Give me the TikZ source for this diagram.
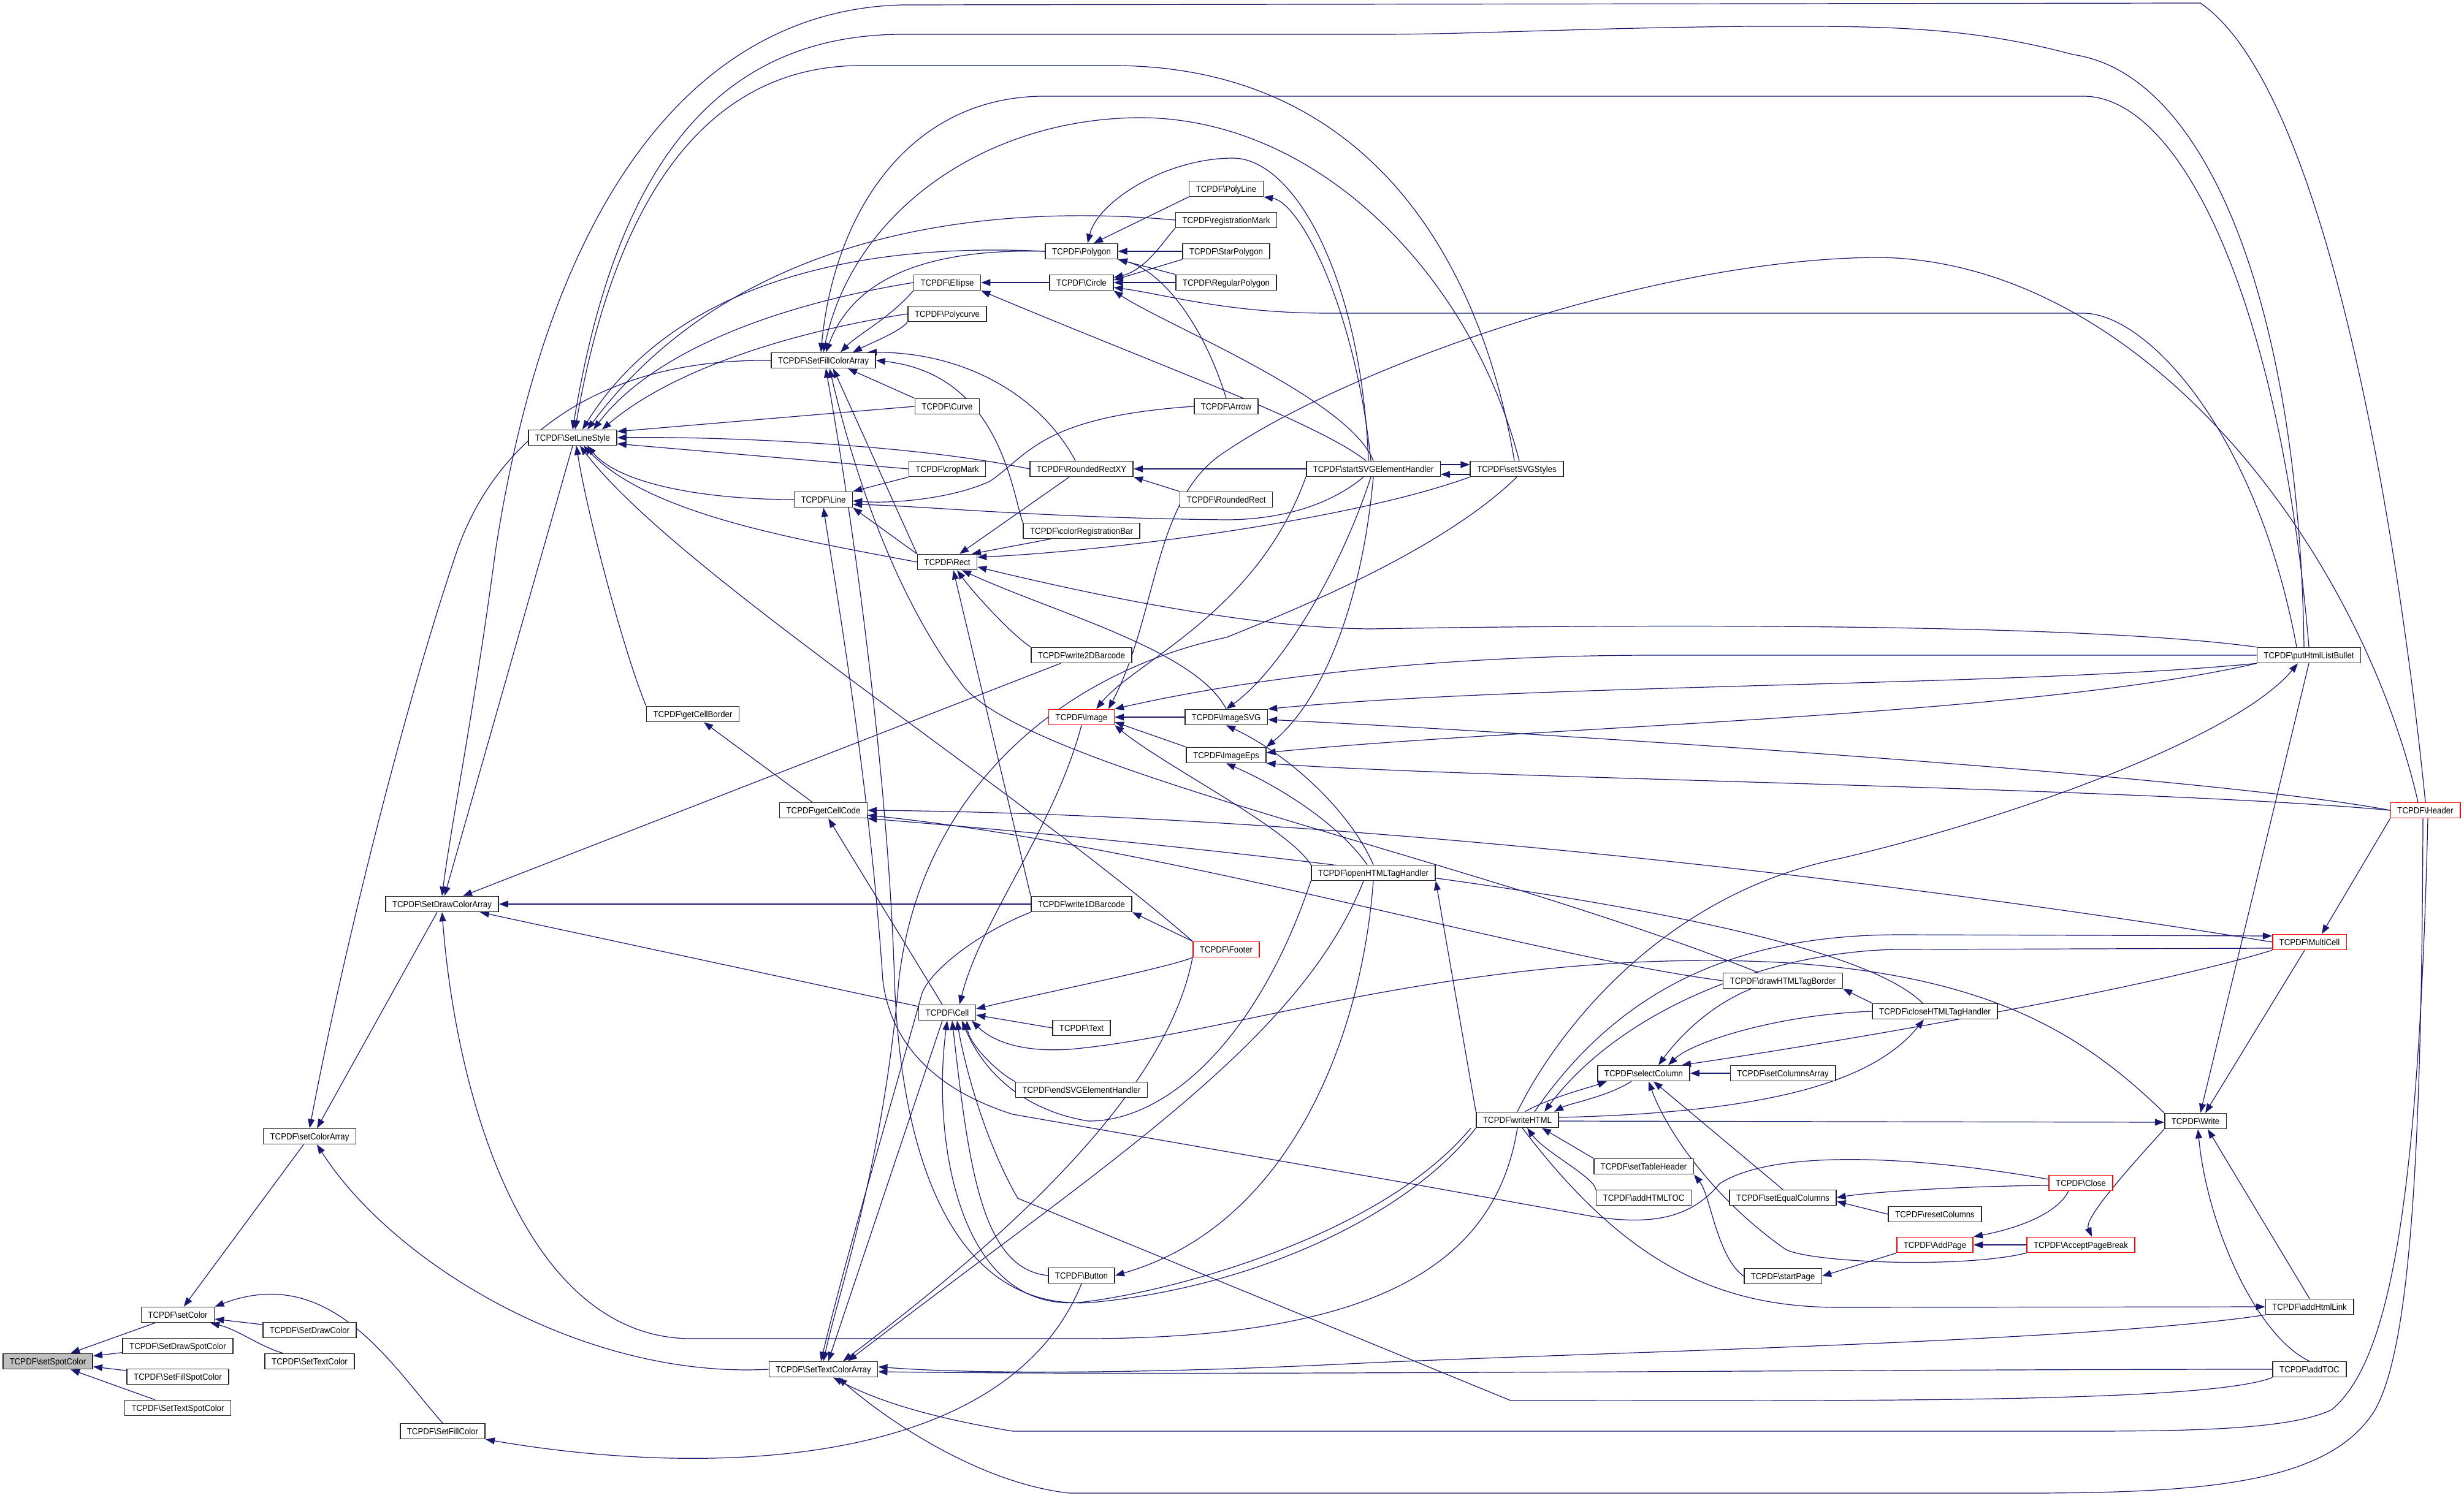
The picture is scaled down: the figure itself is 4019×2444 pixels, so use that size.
\documentclass[tikz,border=0pt]{standalone}
\usepackage{fontspec}
\setmainfont{Liberation Sans}[FakeStretch=0.92]
\usetikzlibrary{arrows.meta}
\newcommand{\bsl}{\textbackslash}
\definecolor{edgec}{HTML}{191970}
\pgfdeclarelayer{paper}
\pgfdeclarelayer{bg}
\pgfsetlayers{paper,bg,main}
\begin{document}
\begin{tikzpicture}[x=0.5pt,y=-0.5pt,
  fn/.style={draw=black!85,line width=0.8pt,fill=white,inner xsep=5.5pt,inner ysep=0pt,
     minimum height=12.5pt,text height=5.3pt,text depth=0.2pt,
     font=\fontsize{7.2pt}{8pt}\selectfont},
  hot/.style={fn,draw=red},
  e/.style={draw=edgec,line width=0.6pt,-{Triangle[length=7.5pt,width=5.5pt]}}]
\useasboundingbox (0,0) rectangle (4019,2444);
\begin{pgfonlayer}{paper}
\fill[white] (0,0) rectangle (4019,2444);
\end{pgfonlayer}
% ---------------- nodes
\node[fn,fill=gray!50] (n00) at (78,2221) {TCPDF\bsl setSpotColor};
\node[fn] (n01) at (290,2145) {TCPDF\bsl setColor};
\node[fn] (n02) at (290,2196) {TCPDF\bsl SetDrawSpotColor};
\node[fn] (n03) at (290,2246) {TCPDF\bsl SetFillSpotColor};
\node[fn] (n04) at (290,2297) {TCPDF\bsl SetTextSpotColor};
\node[fn] (n05) at (505,1854) {TCPDF\bsl setColorArray};
\node[fn] (n06) at (505,2170) {TCPDF\bsl SetDrawColor};
\node[fn] (n07) at (505,2221) {TCPDF\bsl SetTextColor};
\node[fn] (n08) at (721,1475) {TCPDF\bsl SetDrawColorArray};
\node[fn] (n09) at (722,2335) {TCPDF\bsl SetFillColor};
\node[fn] (n10) at (934,714) {TCPDF\bsl SetLineStyle};
\node[fn] (n11) at (1130,1165) {TCPDF\bsl getCellBorder};
\node[fn] (n12) at (1343,588) {TCPDF\bsl SetFillColorArray};
\node[fn] (n13) at (1343,1322) {TCPDF\bsl getCellCode};
\node[fn] (n14) at (1343,815) {TCPDF\bsl Line};
\node[fn] (n15) at (1343,2234) {TCPDF\bsl SetTextColorArray};
\node[fn] (n16) at (1545,461) {TCPDF\bsl Ellipse};
\node[fn] (n17) at (1545,512) {TCPDF\bsl Polycurve};
\node[fn] (n18) at (1545,663) {TCPDF\bsl Curve};
\node[fn] (n19) at (1545,765) {TCPDF\bsl cropMark};
\node[fn] (n20) at (1545,917) {TCPDF\bsl Rect};
\node[fn] (n21) at (1545,1652) {TCPDF\bsl Cell};
\node[fn] (n22) at (1764,410) {TCPDF\bsl Polygon};
\node[fn] (n23) at (1764,461) {TCPDF\bsl Circle};
\node[fn] (n24) at (1764,765) {TCPDF\bsl RoundedRectXY};
\node[fn] (n25) at (1764,866) {TCPDF\bsl colorRegistrationBar};
\node[fn] (n26) at (1764,1069) {TCPDF\bsl write2DBarcode};
\node[hot] (n27) at (1764,1170) {TCPDF\bsl Image};
\node[fn] (n28) at (1764,1475) {TCPDF\bsl write1DBarcode};
\node[fn] (n29) at (1764,1677) {TCPDF\bsl Text};
\node[fn] (n30) at (1764,1778) {TCPDF\bsl endSVGElementHandler};
\node[fn] (n31) at (1764,2081) {TCPDF\bsl Button};
\node[fn] (n32) at (2000,308) {TCPDF\bsl PolyLine};
\node[fn] (n33) at (2000,359) {TCPDF\bsl registrationMark};
\node[fn] (n34) at (2000,410) {TCPDF\bsl StarPolygon};
\node[fn] (n35) at (2000,461) {TCPDF\bsl RegularPolygon};
\node[fn] (n36) at (2000,663) {TCPDF\bsl Arrow};
\node[fn] (n37) at (2000,815) {TCPDF\bsl RoundedRect};
\node[fn] (n38) at (2000,1170) {TCPDF\bsl ImageSVG};
\node[fn] (n39) at (2000,1232) {TCPDF\bsl ImageEps};
\node[hot] (n40) at (2000,1549) {TCPDF\bsl Footer};
\node[fn] (n41) at (2240,765) {TCPDF\bsl startSVGElementHandler};
\node[fn] (n42) at (2240,1424) {TCPDF\bsl openHTMLTagHandler};
\node[fn] (n43) at (2474,765) {TCPDF\bsl setSVGStyles};
\node[fn] (n44) at (2475,1827) {TCPDF\bsl writeHTML};
\node[fn] (n45) at (2681,1751) {TCPDF\bsl selectColumn};
\node[fn] (n46) at (2681,1903) {TCPDF\bsl setTableHeader};
\node[fn] (n47) at (2681,1954) {TCPDF\bsl addHTMLTOC};
\node[fn] (n48) at (2908,1600) {TCPDF\bsl drawHTMLTagBorder};
\node[fn] (n49) at (2908,1751) {TCPDF\bsl setColumnsArray};
\node[fn] (n50) at (2908,1954) {TCPDF\bsl setEqualColumns};
\node[fn] (n51) at (2908,2082) {TCPDF\bsl startPage};
\node[fn] (n52) at (3156,1650) {TCPDF\bsl closeHTMLTagHandler};
\node[fn] (n53) at (3156,1981) {TCPDF\bsl resetColumns};
\node[hot] (n54) at (3156,2031) {TCPDF\bsl AddPage};
\node[hot] (n55) at (3394,1930) {TCPDF\bsl Close};
\node[hot] (n56) at (3394,2031) {TCPDF\bsl AcceptPageBreak};
\node[fn] (n57) at (3581,1829) {TCPDF\bsl Write};
\node[fn] (n58) at (3766,1069) {TCPDF\bsl putHtmlListBullet};
\node[hot] (n59) at (3956,1322) {TCPDF\bsl Header};
\node[hot] (n60) at (3767,1537) {TCPDF\bsl MultiCell};
\node[fn] (n61) at (3767,2132) {TCPDF\bsl addHtmlLink};
\node[fn] (n62) at (3767,2234) {TCPDF\bsl addTOC};
% ---------------- edges
\begin{pgfonlayer}{bg}
% left cluster
\draw[e] (n01) -- (n00);
\draw[e] (n02) -- (n00);
\draw[e] (n03) -- (n00);
\draw[e] (n04) -- (n00);
\draw[e] (n05) -- (n01);
\draw[e] (n06) -- (n01);
\draw[e] (n07) .. controls (420,2195) and (390,2170) .. (n01);
\draw[e] (n09.north) .. controls (640,2230) and (540,2060) .. (n01.north east);
\draw[e] ([xshift=-4pt]n08.south) -- ([xshift=6pt]n05.north);
\draw[e] (n12.west) .. controls (950,585) and (800,740) .. (745,900) .. controls (660,1150) and (560,1550) .. (n05.north);
\draw[e] (n15.west) .. controls (950,2250) and (640,2060) .. ([xshift=6pt]n05.south);
\draw[e] (n31.south) .. controls (1640,2400) and (1150,2410) .. (n09.south east);
% SetDrawColorArray
\draw[e] (n10.south) -- ([xshift=2pt]n08.north);
\draw[e] (n26) -- (n08);
\draw[e] (n28) -- (n08);
\draw[e] (n21) -- (n08);
\draw[e] (n44.south) .. controls (2440,2060) and (2250,2184) .. (1766,2184) -- (1128,2184) .. controls (860,2184) and (745,1800) .. (n08.south);
\draw[e] (n59.north) .. controls (3915,900) and (3800,150) .. (3589,5) -- (1473,8) .. controls (1150,15) and (900,300) .. (808,900) .. controls (775,1150) and (735,1350) .. (n08.north);
% SetLineStyle
\draw[e] (n22.west) .. controls (1400,395) and (1100,460) .. ([xshift=8pt]n10.north);
\draw[e] (n33.west) .. controls (1600,330) and (1200,380) .. ([xshift=12pt]n10.north);
\draw[e] (n16.west) .. controls (1250,500) and (1060,580) .. ([xshift=17pt]n10.north);
\draw[e] (n17.west) .. controls (1300,540) and (1100,600) .. ([xshift=24pt]n10.north);
\draw[e] (n18.west) -- ([yshift=5pt]n10.east);
\draw[e] (n24.west) .. controls (1500,727) and (1200,712) .. (n10.east);
\draw[e] (n19.west) -- ([yshift=-5pt]n10.east);
\draw[e] (n14.west) .. controls (1150,815) and (1010,790) .. ([xshift=12pt]n10.south);
\draw[e] (n20.west) .. controls (1300,880) and (1060,840) .. ([xshift=9pt]n10.south);
\draw[e] (n11.north west) .. controls (1020,1070) and (960,850) .. ([xshift=3pt]n10.south);
\draw[e] (n40.north west) .. controls (1650,1280) and (1100,930) .. ([xshift=6pt]n10.south);
\draw[e] ([xshift=-2pt]n43.north) .. controls (2420,450) and (2250,110) .. (1820,107) -- (1400,107) .. controls (1110,110) and (990,400) .. ([xshift=2pt]n10.north);
\draw[e] ([xshift=-4pt]n58.north) .. controls (3750,500) and (3600,120) .. (3381,89) .. controls (3200,40) and (3050,43) .. (2861,43) .. controls (2600,45) and (2400,56) .. (2254,56) -- (1473,56) .. controls (1150,56) and (1000,300) .. (n10.north);
% SetFillColorArray
\draw[e] (n22.west) .. controls (1500,405) and (1390,460) .. ([xshift=2pt]n12.north);
\draw[e] (n16.south west) .. controls (1450,520) and (1400,545) .. ([xshift=14pt]n12.north);
\draw[e] (n17.south west) .. controls (1470,540) and (1420,560) .. ([xshift=24pt]n12.north);
\draw[e] (n18.north west) -- ([xshift=20pt]n12.south);
\draw[e] ([xshift=-5pt]n24.north) .. controls (1700,650) and (1580,575) .. ([xshift=36pt]n12.north);
\draw[e] (n25.north west) .. controls (1650,800) and (1630,610) .. (n12.east);
\draw[e] (n20.north west) -- ([xshift=8pt]n12.south);
\draw[e] ([xshift=-20pt]n48.north) .. controls (2400,1400) and (1700,1260) .. (1574,1123) .. controls (1470,990) and (1400,800) .. ([xshift=5pt]n12.south);
\draw[e] (n44.south west) .. controls (2300,1980) and (2050,2100) .. (1780,2125) .. controls (1560,2140) and (1470,1900) .. (1459,1600) .. controls (1450,1300) and (1400,900) .. ([xshift=2pt]n12.south);
\draw[e] (n58.north) .. controls (3720,500) and (3560,157) .. (3398,157) -- (1699,157) .. controls (1480,160) and (1360,350) .. ([xshift=-2pt]n12.north);
\draw[e] ([xshift=2pt]n43.north) .. controls (2400,450) and (2150,190) .. (1855,192) .. controls (1600,195) and (1390,350) .. (n12.north);
% getCellCode / getCellBorder
\draw[e] (n13) -- (n11);
\draw[e] (n21) -- (n13);
\draw[e] (n60.west) .. controls (3300,1470) and (2300,1330) .. (n13.east);
\draw[e] (n48.west) .. controls (2500,1560) and (1900,1380) .. ([yshift=-4pt]n13.east);
\draw[e] ([xshift=-10pt]n52.north) .. controls (3000,1500) and (2200,1400) .. (n13.south east);
% Rect
\draw[e] (n28.north west) -- ([xshift=5pt]n20.south);
\draw[e] (n26.north west) .. controls (1650,1035) and (1590,970) .. ([xshift=8pt]n20.south);
\draw[e] (n38.north) .. controls (1950,1060) and (1720,1000) .. ([xshift=12pt]n20.south);
\draw[e] (n58.north west) .. controls (3400,1017) and (2700,1018) .. (2236,1026) .. controls (2050,1025) and (1800,975) .. ([yshift=-4pt]n20.east);
\draw[e] (n43.south west) .. controls (2200,850) and (1800,900) .. ([yshift=4pt]n20.east);
\draw[e] ([xshift=-10pt]n24.south) -- ([xshift=10pt]n20.north);
\draw[e] ([xshift=-25pt]n25.south) -- ([xshift=20pt]n20.north);
\draw[e] (n20.north west) -- (n14.south east);
% Line
\draw[e] (n19.south west) -- (n14.north east);
\draw[e] (n36.west) .. controls (1700,680) and (1680,740) .. (1615,785) .. controls (1550,815) and (1450,822) .. ([yshift=-1pt]n14.east);
\draw[e] ([xshift=-8pt]n41.south) .. controls (2150,840) and (2050,848) .. (2000,848) .. controls (1700,845) and (1500,825) .. ([yshift=-4pt]n14.east);
\draw[e] ([yshift=3pt]n55.west) .. controls (3150,1890) and (2900,1870) .. (2805,1931) .. controls (2760,1985) and (2700,2000) .. (2600,1985) -- (2300,1931) -- (1652,1818) .. controls (1500,1770) and (1450,1680) .. (1440,1600) .. controls (1420,1300) and (1370,1000) .. (n14.south);
% Polygon / Circle / Ellipse
\draw[e] (n32.south west) -- ([xshift=10pt]n22.north);
\draw[e] ([xshift=-2pt]n41.north) .. controls (2210,500) and (2120,330) .. (n32.south east);
\draw[e] ([xshift=-4pt]n41.north) .. controls (2220,450) and (2110,258) .. (2011,258) .. controls (1900,258) and (1790,330) .. ([xshift=5pt]n22.north);
\draw[e] (n34.west) -- (n22.east);
\draw[e] (n35.north west) -- (n22.south east);
\draw[e] (n36.north) .. controls (1960,520) and (1890,440) .. (n22.south east);
\draw[e] (n33.south west) .. controls (1900,390) and (1870,440) .. ([yshift=4pt]n23.east);
\draw[e] (n34.south west) -- ([yshift=2pt]n23.east);
\draw[e] (n35.west) -- (n23.east);
\draw[e] (n23.west) -- (n16.east);
\draw[e] (n41.north) .. controls (2200,650) and (1900,530) .. (n23.south east);
\draw[e] ([xshift=-6pt]n41.north) .. controls (2150,690) and (1900,600) .. (n16.south east);
\draw[e] ([xshift=-10pt]n58.north) .. controls (3680,700) and (3500,511) .. (3398,511) -- (2167,511) .. controls (2000,511) and (1900,480) .. ([yshift=-4pt]n23.east);
\draw[e] (n41.west) -- (n24.east);
\draw[e] (n37.north west) -- (n24.south east);
\draw[e] ([yshift=3.5pt]n41.east) -- ([yshift=3.5pt]n43.west);
\draw[e] ([yshift=-4.5pt]n43.west) -- ([yshift=-4.5pt]n41.east);
% Images
\draw[e] ([xshift=-2pt]n41.south) .. controls (2180,950) and (2080,1100) .. (n38.north);
\draw[e] (n41.south) .. controls (2220,1000) and (2150,1150) .. (n39.north east);
\draw[e] (n41.south west) .. controls (2050,1000) and (1850,1080) .. ([xshift=12pt]n27.north);
\draw[e] (n38.west) -- (n27.east);
\draw[e] (n39.north west) -- ([yshift=-4pt]n27.east);
\draw[e] (n42.north west) .. controls (2100,1350) and (1900,1250) .. (n27.south east);
\draw[e] (n42.north) .. controls (2200,1320) and (2100,1230) .. (n38.south);
\draw[e] ([xshift=-5pt]n42.north) .. controls (2180,1340) and (2080,1280) .. (n39.south);
\draw[e] (n58.west) -- (2700,1069) .. controls (2300,1069) and (2000,1115) .. (n27.north east);
\draw[e] (n58.south west) .. controls (3300,1120) and (2500,1115) .. (n38.north east);
\draw[e] (n58.south west) .. controls (3300,1170) and (2500,1185) .. ([yshift=2pt]n39.east);
\draw[e] (n59.west) .. controls (3600,1265) and (2500,1195) .. ([yshift=-2pt]n38.east);
\draw[e] (n59.west) .. controls (3500,1285) and (2400,1270) .. (n39.south east);
\draw[e] ([xshift=-6pt]n59.north) .. controls (3850,900) and (3500,430) .. (3069,420) .. controls (2700,420) and (2200,600) .. (2000,736) .. controls (1880,810) and (1890,1000) .. ([xshift=22pt]n27.north);
\draw[e] (n44.north) .. controls (2530,1700) and (2700,1460) .. (3004,1400) .. controls (3300,1330) and (3650,1200) .. ([xshift=-9pt]n58.south);
% Cell
\draw[e] (n29.west) -- ([yshift=-2pt]n21.east);
\draw[e] (n30.north west) .. controls (1620,1745) and (1580,1700) .. ([xshift=16pt]n21.south);
\draw[e] (n27.south) .. controls (1720,1350) and (1600,1500) .. ([xshift=10pt]n21.north);
\draw[e] (n42.south west) .. controls (2050,1700) and (1900,1830) .. (1775,1829) .. controls (1660,1810) and (1600,1740) .. ([xshift=12pt]n21.south);
\draw[e] (n31.west) .. controls (1600,2070) and (1580,1900) .. ([xshift=4pt]n21.south);
\draw[e] (n40.south west) .. controls (1900,1580) and (1700,1620) .. ([yshift=3pt]n21.east);
\draw[e] (n57.north west) .. controls (3400,1690) and (3250,1590) .. (2900,1570) .. controls (2400,1545) and (2000,1690) .. (1744,1712) .. controls (1650,1718) and (1610,1690) .. ([xshift=20pt]n21.south);
\draw[e] ([xshift=-4pt]n44.south west) .. controls (2250,2020) and (1900,2110) .. (1760,2125) .. controls (1560,2140) and (1520,1850) .. (n21.south);
\draw[e] (n62.south west) .. controls (3600,2290) and (3000,2285) .. (2464,2285) -- (1660,1955) .. controls (1600,1850) and (1570,1720) .. ([xshift=8pt]n21.south);
\draw[e] ([xshift=-4pt]n21.south) -- ([xshift=4pt]n15.north);
\draw[e] (n40.north west) -- (n28.south east);
% SetTextColorArray
\draw[e] (n28.south west) .. controls (1600,1520) and (1520,1580) .. (1504,1620) .. controls (1440,1850) and (1380,2050) .. ([xshift=-2pt]n15.north);
\draw[e] (n43.south) .. controls (2350,900) and (2100,1000) .. (2000,1040) .. controls (1720,1100) and (1500,1300) .. (1466,1600) .. controls (1440,1900) and (1370,2100) .. (n15.north);
\draw[e] (n40.south west) .. controls (1900,1800) and (1600,2050) .. ([xshift=16pt]n15.north);
\draw[e] ([xshift=-8pt]n42.south) .. controls (2120,1700) and (1800,1900) .. ([xshift=20pt]n15.north);
\draw[e] (n61.south west) .. controls (3400,2190) and (2600,2206) .. (2200,2225) .. controls (1900,2240) and (1600,2243) .. ([yshift=2pt]n15.east);
\draw[e] (n62.west) .. controls (3000,2234) and (2000,2245) .. ([yshift=-2pt]n15.east);
\draw[e] ([xshift=-2pt]n59.south) .. controls (3950,1900) and (3930,2200) .. (3874,2300) .. controls (3800,2420) and (3600,2436) .. (3300,2436) -- (1744,2436) .. controls (1600,2420) and (1450,2320) .. ([xshift=12pt]n15.south);
\draw[e] ([xshift=2pt]n59.south) .. controls (3945,1950) and (3900,2220) .. (3803,2300) .. controls (3740,2330) and (3600,2335) .. (3400,2335) -- (1652,2335) .. controls (1500,2310) and (1420,2280) .. ([xshift=8pt]n15.south);
% right cluster
\draw[e] (n44.north west) -- (n42.south east);
\draw[e] (n42.south) .. controls (2220,1700) and (2100,2000) .. (n31.east);
\draw[e] ([xshift=6pt]n44.north) .. controls (2530,1790) and (2590,1775) .. ([xshift=-30pt]n45.south);
\draw[e] ([xshift=-10pt]n45.south) .. controls (2620,1790) and (2560,1800) .. ([xshift=30pt]n44.north);
\draw[e] (n49.west) -- (n45.east);
\draw[e] ([xshift=-26pt]n48.south) .. controls (2790,1640) and (2740,1690) .. ([xshift=12pt]n45.north);
\draw[e] (n52.west) .. controls (2900,1655) and (2760,1700) .. ([xshift=20pt]n45.north);
\draw[e] (n60.south west) .. controls (3500,1614) and (3000,1700) .. ([xshift=31pt]n45.north);
\draw[e] (n50.north) -- ([xshift=8pt]n45.south);
\draw[e] (n56.south west) .. controls (3200,2070) and (2950,2060) .. (2912,2038) .. controls (2800,1960) and (2720,1850) .. ([xshift=4pt]n45.south);
\draw[e] (n46.north west) -- ([xshift=20pt]n44.south);
\draw[e] (n47.north west) .. controls (2600,1920) and (2520,1880) .. ([xshift=8pt]n44.south);
\draw[e] (n51.west) .. controls (2800,2050) and (2790,1950) .. (n46.south east);
\draw[e] ([yshift=2pt]n44.east) .. controls (2900,1815) and (3060,1760) .. ([xshift=-9pt]n52.south);
\draw[e] ([yshift=-1pt]n44.east) -- ([yshift=-1pt]n57.west);
\draw[e] ([xshift=14pt]n44.north) .. controls (2650,1600) and (2850,1525) .. (3100,1525) -- ([yshift=5pt]n60.west);
\draw[e] ([yshift=-5pt]n60.west) -- (3100,1549) .. controls (2900,1550) and (2650,1640) .. ([xshift=22pt]n44.north);
\draw[e] ([xshift=4pt]n44.south) .. controls (2650,2060) and (2800,2133) .. (3000,2133) -- (n61.west);
\draw[e] (n52.north west) -- (n48.south east);
\draw[e] ([yshift=-2pt]n55.west) .. controls (3200,1935) and (3050,1945) .. (n50.east);
\draw[e] (n53.west) -- ([yshift=-3pt]n50.east);
\draw[e] ([xshift=-10pt]n55.south) .. controls (3350,1990) and (3260,2010) .. (n54.north east);
\draw[e] (n56.west) -- (n54.east);
\draw[e] (n54.south west) -- (n51.east);
\draw[e] (n57.south west) .. controls (3450,1930) and (3400,1990) .. ([xshift=9pt]n56.north);
\draw[e] ([xshift=-4pt]n60.south) -- ([xshift=8pt]n57.north);
\draw[e] (n58.south) -- ([xshift=4pt]n57.north);
\draw[e] (n61.north) -- ([xshift=10pt]n57.south);
\draw[e] (n62.north) .. controls (3680,2180) and (3600,2000) .. ([xshift=2pt]n57.south);
\draw[e] (n59.south west) -- ([xshift=10pt]n60.north);
\end{pgfonlayer}
\end{tikzpicture}
\end{document}
